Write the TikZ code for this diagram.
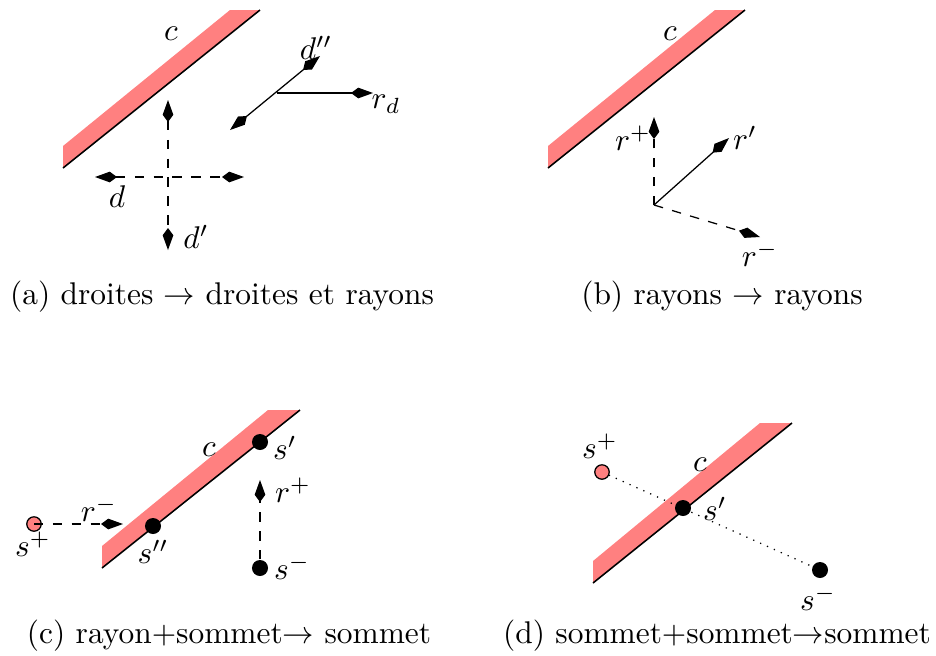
\documentclass[tikz,border=0pt]{standalone}
\usetikzlibrary{arrows.meta}
\pgfdeclarelayer{bg}
\pgfsetlayers{bg,main}
\tikzset{
  band/.style={fill=red!50, draw=none},
  bandline/.style={draw=black, line width=0.5pt},
  ktip/.style={-{Kite[length=7pt,width=3.4pt,inset=2.3pt]}},
  ktwo/.style={{Kite[length=7pt,width=3.4pt,inset=2.3pt]}-{Kite[length=7pt,width=3.4pt,inset=2.3pt]}},
  bdot/.style={circle, fill=black, inner sep=0pt, minimum size=5.1pt},
  pdot/.style={circle, fill=red!50, draw=black, line width=0.4pt, inner sep=0pt, minimum size=4.6pt},
  lbl/.style={inner sep=0pt},
  captext/.style={inner sep=0pt},
}
\begin{document}
\begin{tikzpicture}[x=0.3185pt, y=-0.3185pt]
\useasboundingbox (0,0) rectangle (936,655);

% ---------------- (a) ----------------
\begin{pgfonlayer}{bg}
\fill[band] (63,168) -- (260,10) -- (230,10) -- (63,146) -- cycle;
\end{pgfonlayer}
\coordinate (aB1) at (63,168);
\coordinate (aB2) at (260,10);
\draw[bandline] (aB1) -- (aB2);
\node[lbl] (ac) at (171,34) {$c$};
\coordinate (aX) at (168,177);
\coordinate (aL) at (95,177);
\coordinate (aR) at (244,177);
\coordinate (aT) at (168,100);
\coordinate (aD) at (168,250);
\draw[dashed, ktwo] (aL) -- (aR);
\draw[dashed, ktwo] (aT) -- (aD);
\node[lbl] (ad) at (117,197) {$d$};
\node[lbl] (ad1) at (196,237) {$d'$};
\coordinate (aO) at (277,93);
\coordinate (aUR) at (320,56);
\coordinate (aDL) at (230,130);
\coordinate (aRR) at (373,93);
\draw[ktwo] (aDL) -- (aUR);
\draw[ktip] (aO) -- (aRR);
\node[lbl] (ad2) at (316,48) {$d''$};
\node[lbl] (ard) at (386,104) {$r_d$};
\node[captext] (capa) at (222,297) {(a) droites $\rightarrow$ droites et rayons};

% ---------------- (b) ----------------
\begin{pgfonlayer}{bg}
\fill[band] (548,168) -- (745,10) -- (715,10) -- (548,146) -- cycle;
\end{pgfonlayer}
\coordinate (bB1) at (548,168);
\coordinate (bB2) at (745,10);
\draw[bandline] (bB1) -- (bB2);
\node[lbl] (bc) at (670,34) {$c$};
\coordinate (bO) at (654,205);
\coordinate (bT) at (654,117);
\coordinate (bRp) at (729,138);
\coordinate (bRm) at (760,237);
\draw[dashed, ktip] (bO) -- (bT);
\draw[ktip] (bO) -- (bRp);
\draw[dashed, ktip] (bO) -- (bRm);
\node[lbl] (brp) at (633,138) {$r^+$};
\node[lbl] (br1) at (745,138) {$r'$};
\node[lbl] (brm) at (760,254) {$r^-$};
\node[captext] (capb) at (722,297) {(b) rayons $\rightarrow$ rayons};

% ---------------- (c) ----------------
\begin{pgfonlayer}{bg}
\fill[band] (102,568) -- (300,410) -- (268,410) -- (102,546) -- cycle;
\end{pgfonlayer}
\coordinate (cB1) at (102,568);
\coordinate (cB2) at (300,410);
\draw[bandline] (cB1) -- (cB2);
\node[lbl] (cc) at (209,450) {$c$};
\node[pdot] (csp) at (34,524) {};
\coordinate (cTip) at (123,524);
\draw[dashed, ktip] (csp.center) -- (cTip);
\node[lbl] (crm) at (99,509) {$r^-$};
\node[lbl] (cspl) at (33,544) {$s^+$};
\node[bdot] (cs2) at (153,526) {};
\node[lbl] (cs2l) at (153,552) {$s''$};
\node[bdot] (cs1) at (260,442) {};
\node[lbl] (cs1l) at (285,448) {$s'$};
\node[bdot] (csm) at (260,568) {};
\node[lbl] (csml) at (292,567) {$s^-$};
\coordinate (cUp) at (260,480);
\draw[dashed, ktip] (csm) -- (cUp);
\node[lbl] (crp) at (293,490) {$r^+$};
\node[captext] (capc) at (229,636) {(c) rayon+sommet$\rightarrow$ sommet};

% ---------------- (d) ----------------
\begin{pgfonlayer}{bg}
\fill[band] (593,583) -- (792,423) -- (760,423) -- (593,561) -- cycle;
\end{pgfonlayer}
\coordinate (dB1) at (593,583);
\coordinate (dB2) at (792,423);
\draw[bandline] (dB1) -- (dB2);
\node[lbl] (dc) at (700,465) {$c$};
\node[pdot] (dsp) at (602,472) {};
\node[bdot] (ds1) at (683,508) {};
\node[bdot] (dsm) at (820,570) {};
\begin{pgfonlayer}{bg}
\draw[dotted] (dsp.center) -- (dsm.center);
\end{pgfonlayer}
\node[lbl] (dspl) at (600,446) {$s^+$};
\node[lbl] (ds1l) at (715,509) {$s'$};
\node[lbl] (dsml) at (818,598) {$s^-$};
\node[captext] (capd) at (717,636) {(d) sommet+sommet$\rightarrow$sommet};
\end{tikzpicture}
\end{document}
